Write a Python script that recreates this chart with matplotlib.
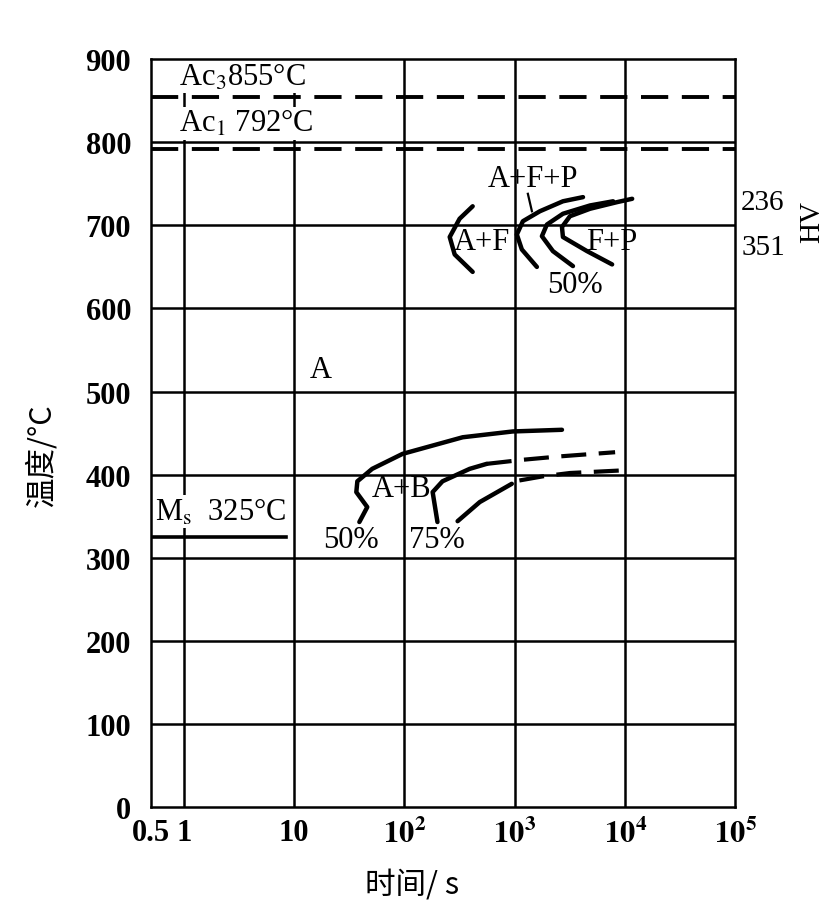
import matplotlib.pyplot as plt

# time (s) / temperature (deg C)
ac3 = 855
ac1 = 792
ms = 325
ms_end = 8.5

# upper transformation curves (ferrite / pearlite)
af_start_t = [415, 316, 257, 285, 415]
af_start_T = [723, 708, 686, 665, 644]
c2_t = [1585, 1158, 1043, 1183, 1687, 2730, 4150]
c2_T = [650, 671, 689, 705, 717, 729, 734]
c3_t = [3365, 2215, 1760, 1953, 2730, 4808, 7780]
c3_T = [651, 669, 687, 701, 714, 724, 729]
c4_t = [7620, 4515, 2730, 2675, 3160, 4808, 8460, 11580]
c4_T = [653, 669, 686, 698, 711, 720, 728, 732]
pointer_t = [1313, 1429]
pointer_T = [738, 717]

# bainite curves
b50_t = [39, 46, 36.6, 37.4, 51, 96, 337, 959, 2675]
b50_T = [343, 361, 379, 392, 407, 425, 445, 452, 454]
b75_t = [199, 180, 221, 390, 556]
b75_T = [343, 379, 392, 407, 413]
b75_dash_t = [556, 1200, 2565, 8110]
b75_dash_T = [413, 418, 422, 427]
b3_t = [303, 481, 939]
b3_T = [344, 367, 389]
b3_dash_t = [1100, 1800, 3162, 9010]
b3_dash_T = [393, 398, 402, 405]

x_ticks = [0.5, 1, 10, 1e2, 1e3, 1e4, 1e5]
x_labels = ["0.5", "1", "10", r"$\mathbf{10^2}$", r"$\mathbf{10^3}$",
            r"$\mathbf{10^4}$", r"$\mathbf{10^5}$"]
y_ticks = list(range(0, 1000, 100))

plt.rcParams['font.family'] = ['Liberation Serif', 'Noto Sans CJK SC']
plt.rcParams['mathtext.fontset'] = 'stix'

fig = plt.figure(figsize=(8.32, 9.12), dpi=100)
ax = fig.add_axes([0.181, 0.114, 0.703, 0.820])
ax.set_xscale('log')
ax.set_xlim(0.5, 1e5)
ax.set_ylim(0, 900)

# grid
for t in [1, 10, 1e2, 1e3, 1e4]:
    ax.axvline(t, color='black', lw=1.8, zorder=1)
for T in y_ticks[1:-1]:
    ax.axhline(T, color='black', lw=1.8, zorder=1)
for s in ax.spines.values():
    s.set_linewidth(1.8)
    s.set_zorder(6)

ax.set_xticks(x_ticks)
ax.set_xticklabels(x_labels)
ax.minorticks_off()
ax.set_yticks(y_ticks)
ax.tick_params(length=0, labelsize=22, pad=8)
ax.tick_params(axis='y', pad=14)
for lab in ax.get_yticklabels() + ax.get_xticklabels():
    lab.set_fontweight('bold')

# critical temperatures
ax.axhline(ac3, color='black', lw=2.8, dashes=(7, 3.5), zorder=2)
ax.axhline(ac1, color='black', lw=2.8, dashes=(7, 3.5), zorder=2)
ax.plot([0.5, ms_end], [ms, ms], color='black', lw=2.6, zorder=2)

box = dict(facecolor='white', edgecolor='none', pad=1)
ax.text(0.9, 879, "Ac$_3$855°C", fontsize=22, va='center', ha='left', bbox=box, zorder=3)
ax.text(0.9, 823, "Ac$_1$ 792°C", fontsize=22, va='center', ha='left', bbox=box, zorder=3)
ax.text(0.55, 356, "M$_\\mathrm{s}$  325°C", fontsize=22, va='center', ha='left', bbox=box, zorder=3)

# curves
kw = dict(color='black', lw=3.2, solid_capstyle='round', solid_joinstyle='round', zorder=4)
for tt, TT in [(af_start_t, af_start_T), (c2_t, c2_T), (c3_t, c3_T), (c4_t, c4_T),
               (b50_t, b50_T), (b75_t, b75_T), (b3_t, b3_T)]:
    ax.plot(tt, TT, **kw)
ax.plot(pointer_t, pointer_T, color='black', lw=1.6, zorder=4)
ax.plot(b75_dash_t, b75_dash_T, color='black', lw=3.0, dashes=(6, 3), zorder=4)
ax.plot(b3_dash_t, b3_dash_T, color='black', lw=3.0, dashes=(6, 3), zorder=4)

# region labels
ax.text(1459, 756, "A+F+P", fontsize=22, ha='center', va='center', zorder=5)
ax.text(501, 681, "A+F", fontsize=22, ha='center', va='center', zorder=5)
ax.text(7620, 681, "F+P", fontsize=22, ha='center', va='center', zorder=5)
ax.text(3510, 629, "50%", fontsize=22, ha='center', va='center', zorder=5)
ax.text(17.6, 527, "A", fontsize=22, ha='center', va='center', zorder=5)
ax.text(94, 383, "A+B", fontsize=22, ha='center', va='center', zorder=5)
ax.text(33, 322, "50%", fontsize=22, ha='center', va='center', zorder=5)
ax.text(195, 322, "75%", fontsize=22, ha='center', va='center', zorder=5)

# hardness at right
fig.text(763 / 832, 1 - 203 / 912, "236", fontsize=21, ha='center', va='center')
fig.text(763 / 832, 1 - 248 / 912, "351", fontsize=21, ha='center', va='center')
fig.text(812 / 832, 1 - 222 / 912, "HV", fontsize=21, ha='center', va='center', rotation=90)

# axis titles
cjk = ['Noto Sans CJK SC', 'DejaVu Sans']
fig.text(412 / 832, 1 - 885 / 912, "时间/ s", fontsize=22, ha='center', va='center', family=cjk)
fig.text(42 / 832, 1 - 455 / 912, "温度/°C", fontsize=22, ha='center', va='center',
         rotation=90, family=cjk)

fig.savefig("out.png", dpi=100)
